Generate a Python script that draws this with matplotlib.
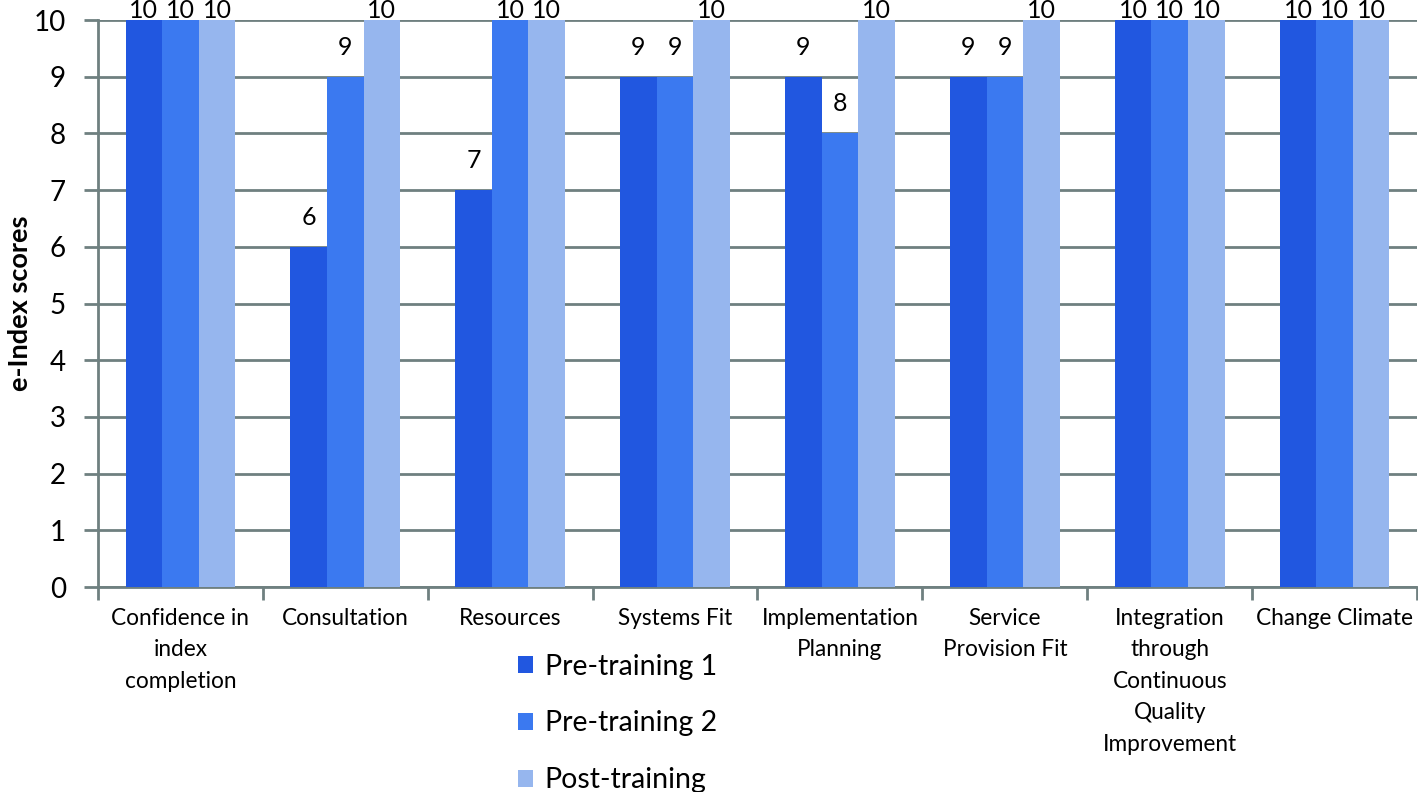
import numpy as np
import matplotlib.pyplot as plt

# data
categories = ['Confidence in\nindex\ncompletion', 'Consultation', 'Resources', 'Systems Fit',
              'Implementation\nPlanning', 'Service\nProvision Fit',
              'Integration\nthrough\nContinuous\nQuality\nImprovement', 'Change Climate']
pre1 = [10, 6, 7, 9, 9, 9, 10, 10]
pre2 = [10, 9, 10, 9, 8, 9, 10, 10]
post = [10, 10, 10, 10, 10, 10, 10, 10]
series_names = ['Pre-training 1', 'Pre-training 2', 'Post-training']
colors = ['#2157e0', '#3b79f0', '#96b6ee']

plt.rcParams['font.family'] = ['Lato', 'DejaVu Sans']
grid_col = '#6f8080'

fig = plt.figure(figsize=(14.18, 7.92), dpi=100)
ax = fig.add_axes([0.0691, 0.2588, 0.9302, 0.7159])

x = np.arange(len(categories))
w = 0.222
bars = []
for i, (vals, name, c) in enumerate(zip([pre1, pre2, post], series_names, colors)):
    b = ax.bar(x + (i - 1) * w, vals, w, color=c, label=name, zorder=3)
    bars.append(b)
    for xi, v in zip(x + (i - 1) * w, vals):
        # labels at the top of the axis are squeezed against the figure edge
        off = 0.03 if v >= 10 else 0.39
        ax.text(xi, v + off, str(v), ha='center', va='baseline', fontsize=18, clip_on=False)

ax.set_xlim(-0.5, len(categories) - 0.5)
ax.set_ylim(0, 10)
ax.set_yticks(range(0, 11))
ax.tick_params(axis='y', labelsize=20, length=10, width=2, color=grid_col, pad=13)
ax.grid(axis='y', color=grid_col, linewidth=2, zorder=0)

# category labels between tick marks at boundaries
ax.set_xticks(np.arange(-0.5, len(categories) + 0.5, 1))
ax.set_xticklabels([])
ax.tick_params(axis='x', length=9, width=2, color=grid_col)
ax.set_xticks(x, minor=True)
ax.set_xticklabels(categories, minor=True, fontsize=16.3, linespacing=1.62)
ax.tick_params(axis='x', which='minor', length=0, pad=15)

for s in ['top', 'right']:
    ax.spines[s].set_visible(False)
for s in ['left', 'bottom']:
    ax.spines[s].set_color(grid_col)
    ax.spines[s].set_linewidth(2)

ax.set_ylabel('e-Index scores', fontsize=19.5, fontweight='bold')
ax.yaxis.set_label_coords(-0.05, 0.5)

fig.legend(handles=bars, labels=series_names, loc='upper left', bbox_to_anchor=(0.347, 0.207),
           frameon=False, fontsize=20.5, handlelength=0.55, handleheight=0.55,
           labelspacing=1.08, handletextpad=0.4)

fig.savefig('out.png', dpi=100)
